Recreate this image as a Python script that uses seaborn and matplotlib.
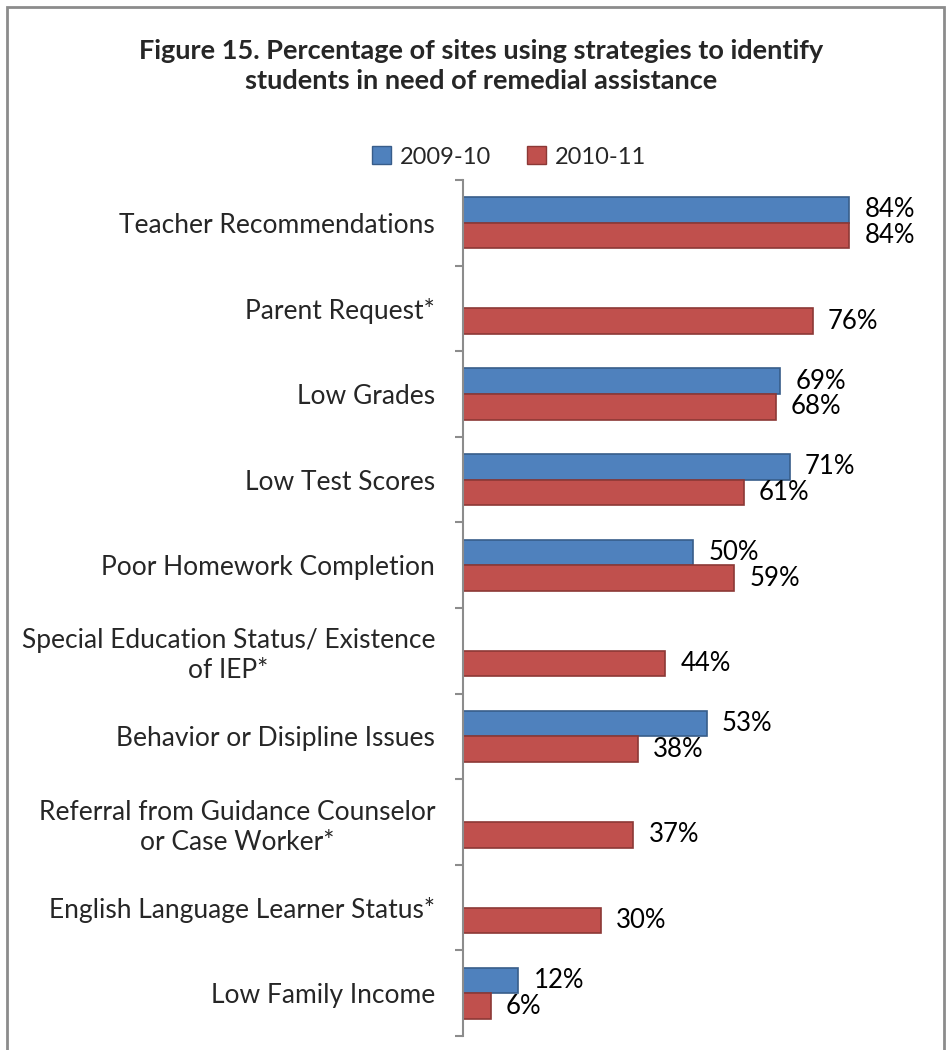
import numpy as np
import pandas as pd
import seaborn as sns
import matplotlib.pyplot as plt
from matplotlib.patches import Rectangle, Patch

sns.set_style("white")
plt.rcParams["font.family"] = ["Lato", "DejaVu Sans"]

categories = ["Teacher Recommendations", "Parent Request*", "Low Grades", "Low Test Scores",
              "Poor Homework Completion", "Special Education Status/ Existence\nof IEP*",
              "Behavior or Disipline Issues", "Referral from Guidance Counselor\nor Case Worker*",
              "English Language Learner Status*", "Low Family Income"]
years = ["2009-10", "2010-11"]
pct_2009 = [84, np.nan, 69, 71, 50, np.nan, 53, np.nan, np.nan, 12]
pct_2010 = [84, 76, 68, 61, 59, 44, 38, 37, 30, 6]
colors = ["#4F81BD", "#C0504D"]
edges = ["#385D8A", "#8C3836"]

df = pd.DataFrame({
    "category": categories * 2,
    "year": [years[0]] * len(categories) + [years[1]] * len(categories),
    "pct": pct_2009 + pct_2010,
})

fig = plt.figure(figsize=(9.51, 10.5), dpi=100)
ax = fig.add_axes([463 / 951, 14 / 1050, (923 - 463) / 951, (1036 - 180) / 1050])

sns.barplot(data=df, x="pct", y="category", hue="year", order=categories, hue_order=years,
            palette=colors, saturation=1, orient="h", width=0.6, errorbar=None, legend=False, ax=ax)

for cont, ec in zip(ax.containers, edges):
    for bar in cont:
        bar.set_edgecolor(ec)
        bar.set_linewidth(1.2)
    ax.bar_label(cont, labels=[f"{b.get_width():.0f}%" if b.get_width() > 0 else "" for b in cont],
                 padding=11, fontsize=18.5, color="black")

ax.set_xlim(0, 100)
ax.set_ylim(len(categories) - 0.5, -0.5)
ax.set_xlabel("")
ax.set_ylabel("")
ax.set_xticks([])
for side in ["top", "right", "bottom"]:
    ax.spines[side].set_visible(False)
ax.spines["left"].set_color("#8c8c8c")
ax.spines["left"].set_linewidth(1.5)
ax.set_yticks(np.arange(-0.5, len(categories), 1), minor=True)
ax.tick_params(axis="y", which="minor", length=6, width=1.5, color="#8c8c8c", left=True)
ax.tick_params(axis="y", which="major", length=0, pad=20, labelsize=19)
for t in ax.get_yticklabels():
    t.set_multialignment("center")
    t.set_linespacing(1.25)

fig.text(481 / 951, 1 - 66 / 1050,
         "Figure 15. Percentage of sites using strategies to identify\nstudents in need of remedial assistance",
         ha="center", va="center", fontsize=19.5, fontweight="bold", linespacing=1.3)

handles = [Patch(facecolor=c, edgecolor=e, label=y) for c, e, y in zip(colors, edges, years)]
fig.legend(handles=handles, loc="center", bbox_to_anchor=(509 / 951, 1 - 157 / 1050), ncol=2,
           frameon=False, fontsize=17, handlelength=0.8, handleheight=0.8, handletextpad=0.4,
           columnspacing=1.5)

fig.add_artist(Rectangle((7 / 951, -0.05), (944 - 7) / 951, 1.05 - 7 / 1050, transform=fig.transFigure,
                         fill=False, edgecolor="#8c8c8c", linewidth=2))

fig.savefig("out.png", dpi=100)
